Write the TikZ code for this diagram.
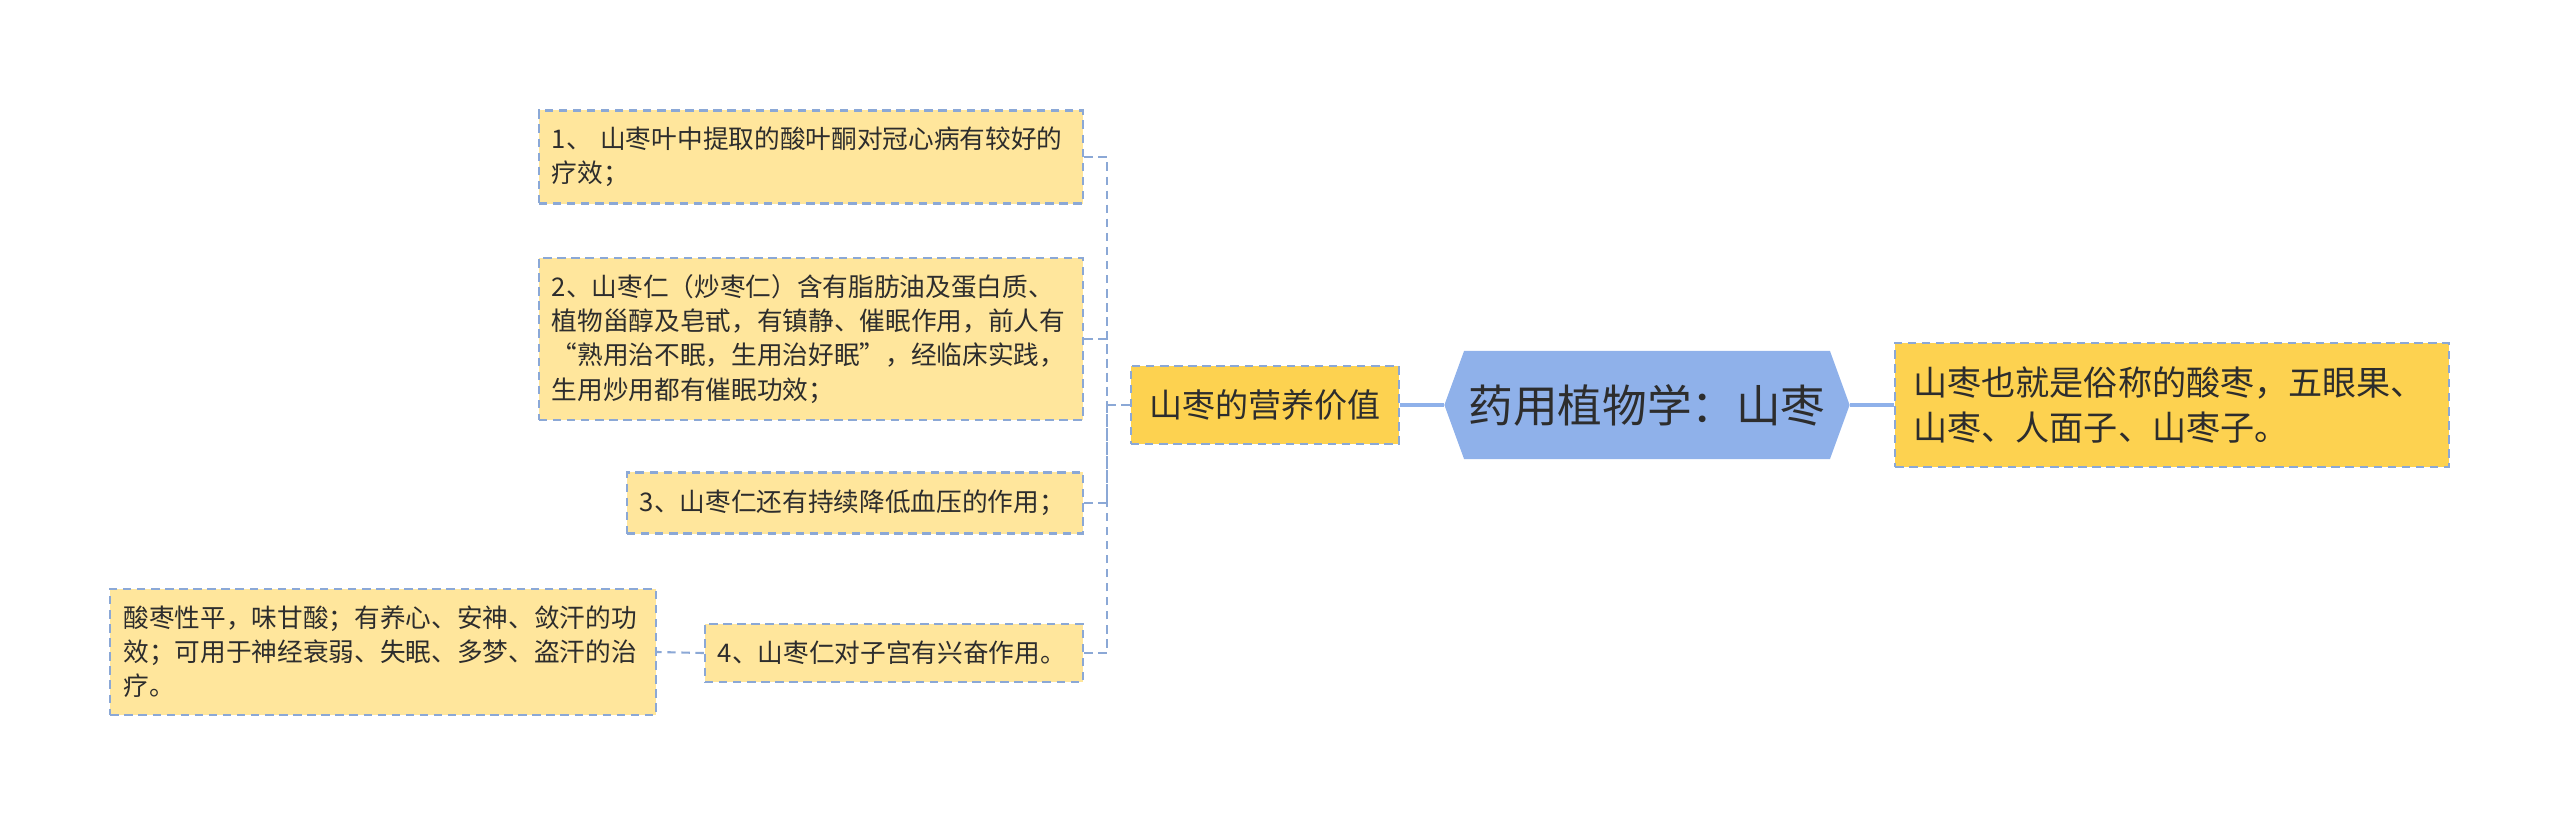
\documentclass[tikz,border=0pt]{standalone}
\usepackage{fontspec}
\setmainfont{Noto Sans CJK SC}
\usetikzlibrary{shapes.symbols}
\definecolor{leafc}{RGB}{255,230,156}
\definecolor{goldc}{RGB}{253,210,80}
\definecolor{rootc}{RGB}{143,177,234}
\definecolor{linec}{RGB}{139,168,214}
\definecolor{textc}{RGB}{45,45,45}
\tikzset{
	box/.style = {draw=linec, line width=0.6pt, dash pattern=on 2.4pt off 1.6pt, inner ysep=0pt, text=textc},
	leaf/.style = {box, fill=leafc, align=left, inner xsep=0.13cm, font=\fontsize{7.3}{9.7}\selectfont},
	link/.style = {draw=linec, line width=0.6pt, dash pattern=on 2.4pt off 1.6pt},
	trunk/.style = {draw=rootc, line width=1.1pt},
}

\begin{document}
\begin{tikzpicture}[x=0.01cm, y=-0.01cm]
	\useasboundingbox (0,0) rectangle (2560,827);
	% centre
	\node[shape=signal, signal to=west and east, signal pointer angle=140, fill=rootc, text=textc,
		minimum width=4.05cm, minimum height=1.08cm, inner sep=0pt,
		font=\fontsize{12.7}{15}\selectfont] (root) at (1647,405) {药用植物学：山枣};
	\node[box, fill=goldc, minimum width=2.68cm, minimum height=0.78cm, inner xsep=0pt,
		font=\fontsize{9.4}{12}\selectfont] (value) at (1265,405) {山枣的营养价值};
	\node[box, fill=goldc, text width=5.17cm, inner xsep=0.18cm, minimum height=1.24cm, align=left,
		font=\fontsize{9.7}{13}\selectfont] (alias) at (2172,405) {山枣也就是俗称的酸枣，五眼果、\\山枣、人面子、山枣子。};
	\draw[trunk] (root.west) -- (value.east);
	\draw[trunk] (root.east) -- (alias.west);
	% leaves
	\node[leaf, text width=5.18cm, minimum height=0.93cm] (leafa) at (811,157) {1、 山枣叶中提取的酸叶酮对冠心病有较好的\\疗效；};
	\node[leaf, text width=5.18cm, minimum height=1.62cm] (leafb) at (811,339) {2、山枣仁（炒枣仁）含有脂肪油及蛋白质、\\植物甾醇及皂甙，有镇静、催眠作用，前人有\\“熟用治不眠，生用治好眠”，经临床实践，\\生用炒用都有催眠功效；};
	\node[leaf, text width=4.30cm, minimum height=0.61cm] (leafc) at (855,503) {3、山枣仁还有持续降低血压的作用；};
	\node[leaf, text width=3.52cm, minimum height=0.58cm] (leafd) at (894,653) {4、山枣仁对子宫有兴奋作用。};
	\node[leaf, text width=5.19cm, minimum height=1.26cm] (note) at (383,652) {酸枣性平，味甘酸；有养心、安神、敛汗的功\\效；可用于神经衰弱、失眠、多梦、盗汗的治\\疗。};
	\draw[link] (value.west) -- ++(-23,0) coordinate (fork);
	\foreach \n in {leafa, leafb, leafc, leafd}
		\draw[link] (\n.east) -| (fork);
	\draw[link] (leafd.west) -- (note.east);
\end{tikzpicture}
\end{document}
